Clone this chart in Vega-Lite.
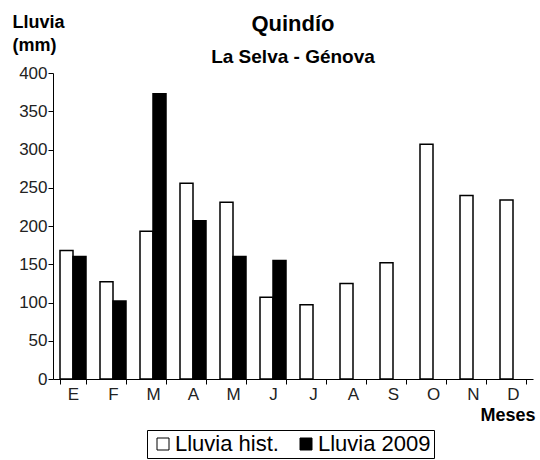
{
  "$schema": "https://vega.github.io/schema/vega-lite/v6.json",
  "width": 480,
  "height": 306,
  "autosize": {"type": "none"},
  "padding": {"left": 53, "top": 73, "right": 7, "bottom": 81},
  "background": "white",
  "config": {
    "font": "Liberation Sans",
    "view": {"stroke": null},
    "axis": {"grid": false, "domainColor": "black", "tickColor": "black", "labelColor": "#222", "titleColor": "black"}
  },
  "title": {
    "text": "Quindío",
    "subtitle": "La Selva - Génova",
    "anchor": "middle",
    "fontSize": 22,
    "fontWeight": "bold",
    "color": "black",
    "subtitleFontSize": 19,
    "subtitleFontWeight": "bold",
    "subtitleColor": "black",
    "subtitlePadding": 12,
    "offset": 0,
    "dy": 55
  },
  "data": {
    "values": [
      {"mes": "E", "serie": "Lluvia hist.", "valor": 168},
      {"mes": "E", "serie": "Lluvia 2009", "valor": 160},
      {"mes": "F", "serie": "Lluvia hist.", "valor": 127},
      {"mes": "F", "serie": "Lluvia 2009", "valor": 102},
      {"mes": "M", "serie": "Lluvia hist.", "valor": 193},
      {"mes": "M", "serie": "Lluvia 2009", "valor": 373},
      {"mes": "A", "serie": "Lluvia hist.", "valor": 256},
      {"mes": "A", "serie": "Lluvia 2009", "valor": 207},
      {"mes": "M ", "serie": "Lluvia hist.", "valor": 231},
      {"mes": "M ", "serie": "Lluvia 2009", "valor": 160},
      {"mes": "J", "serie": "Lluvia hist.", "valor": 107},
      {"mes": "J", "serie": "Lluvia 2009", "valor": 155},
      {"mes": "J ", "serie": "Lluvia hist.", "valor": 97},
      {"mes": "A ", "serie": "Lluvia hist.", "valor": 125},
      {"mes": "S", "serie": "Lluvia hist.", "valor": 152},
      {"mes": "O", "serie": "Lluvia hist.", "valor": 307},
      {"mes": "N", "serie": "Lluvia hist.", "valor": 240},
      {"mes": "D", "serie": "Lluvia hist.", "valor": 234}
    ]
  },
  "mark": {"type": "bar", "stroke": "black", "strokeWidth": 1.5},
  "encoding": {
    "x": {
      "field": "mes",
      "type": "nominal",
      "sort": ["E", "F", "M", "A", "M ", "J", "J ", "A ", "S", "O", "N", "D"],
      "scale": {"paddingInner": 0.35, "paddingOuter": 0.175},
      "axis": {
        "labelAngle": 0,
        "labelFontSize": 17,
        "labelPadding": 2,
        "tickBand": "extent",
        "tickSize": 5,
        "title": "Meses",
        "titleFontSize": 18,
        "titleFontWeight": "bold",
        "titleAnchor": "end",
        "titleAlign": "right",
        "titleX": 482,
        "titleY": 41,
        "titleBaseline": "alphabetic"
      }
    },
    "xOffset": {"field": "serie", "type": "nominal", "sort": ["Lluvia hist.", "Lluvia 2009"], "scale": {"domain": ["Lluvia hist.", "Lluvia 2009"]}},
    "y": {
      "field": "valor",
      "type": "quantitative",
      "scale": {"domain": [0, 400]},
      "axis": {
        "values": [0, 50, 100, 150, 200, 250, 300, 350, 400],
        "labelFontSize": 17,
        "labelPadding": 1,
        "tickSize": 5,
        "title": ["Lluvia", "(mm)"],
        "titleFontSize": 18,
        "titleFontWeight": "bold",
        "titleAngle": 0,
        "titleAlign": "left",
        "titleBaseline": "alphabetic",
        "titleX": -41,
        "titleY": -46,
        "titleLineHeight": 23
      }
    },
    "fill": {
      "field": "serie",
      "type": "nominal",
      "sort": ["Lluvia hist.", "Lluvia 2009"],
      "scale": {"domain": ["Lluvia hist.", "Lluvia 2009"], "range": ["white", "black"]},
      "legend": {
        "title": null,
        "orient": "none",
        "direction": "horizontal",
        "legendX": 94,
        "legendY": 357,
        "strokeColor": "black",
        "padding": 3,
        "symbolType": "square",
        "symbolStrokeColor": "black",
        "symbolStrokeWidth": 1,
        "symbolSize": 144,
        "labelFontSize": 22,
        "labelColor": "black",
        "labelOffset": 1,
        "columnPadding": 14,
        "symbolOffset": 2
      }
    }
  }
}
